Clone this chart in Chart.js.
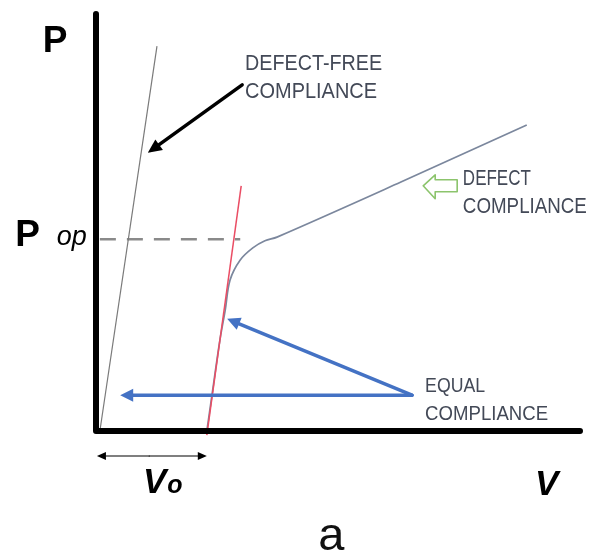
<!DOCTYPE html>
<html>
<head>
<meta charset="utf-8">
<script src="https://cdn.jsdelivr.net/npm/chart.js@4/dist/chart.umd.min.js"></script>
<style>
  html, body { margin: 0; padding: 0; background: #fff; }
  #wrap { width: 590px; height: 556px; position: relative; }
</style>
</head>
<body>
<div id="wrap"><canvas id="compliance-chart"></canvas></div>
<script>
// Load (P) vs displacement (V), schematic units 0..10 on both axes
const V_MAX = 10;
const P_MAX = 10;

// Defect-free compliance: steep straight line from the origin
const defectFreeV = [0.08, 1.26];
const defectFreeP = [0, 9.23];

// Measured curve with a defect: stiff toe, knee near P_op, then softer slope
const defectV = [2.29, 2.44, 2.56, 2.67, 2.77, 2.98, 3.24, 3.49, 3.74, 6.3, 8.9];
const defectP = [0, 1.22, 2.18, 2.9, 3.62, 4.1, 4.39, 4.56, 4.65, 5.97, 7.34];

// Equal-compliance tangent on the toe of the curve
const tangentV = [2.29, 3.0];
const tangentP = [-0.1, 5.88];

// Operating load level and offset V0
const P_OP = 4.6;
const V_OFFSET = 2.29;

const toPoints = (xs, ys) => xs.map((x, i) => ({ x: x, y: ys[i] }));

const FONT = '"Liberation Sans", Arial, sans-serif';
const TEXT_GREY = '#434957';

function arrow(ctx, x1, y1, x2, y2, color, width, headLen, headW) {
  const ang = Math.atan2(y2 - y1, x2 - x1);
  const bx = x2 - Math.cos(ang) * headLen;
  const by = y2 - Math.sin(ang) * headLen;
  ctx.save();
  ctx.strokeStyle = color;
  ctx.fillStyle = color;
  ctx.lineWidth = width;
  ctx.lineCap = 'round';
  ctx.beginPath();
  ctx.moveTo(x1, y1);
  ctx.lineTo(bx, by);
  ctx.stroke();
  ctx.beginPath();
  ctx.moveTo(x2, y2);
  ctx.lineTo(bx + Math.sin(ang) * headW / 2, by - Math.cos(ang) * headW / 2);
  ctx.lineTo(bx - Math.sin(ang) * headW / 2, by + Math.cos(ang) * headW / 2);
  ctx.closePath();
  ctx.fill();
  ctx.restore();
}

// Text squeezed to a given width (narrow capitals of the labels)
function fitText(ctx, str, x, y, font, width, color) {
  ctx.save();
  ctx.font = font;
  ctx.fillStyle = color;
  ctx.textBaseline = 'alphabetic';
  const w = ctx.measureText(str).width;
  ctx.translate(x, y);
  ctx.scale(width / w, 1);
  ctx.fillText(str, 0, 0);
  ctx.restore();
}

function text(ctx, str, x, y, font, color) {
  ctx.save();
  ctx.font = font;
  ctx.fillStyle = color || '#000';
  ctx.textBaseline = 'alphabetic';
  ctx.fillText(str, x, y);
  ctx.restore();
}

const sketchPlugin = {
  id: 'sketch',
  beforeDatasetsDraw(chart) {
    const { ctx, scales: { x, y } } = chart;
    // dashed P_op guide
    ctx.save();
    ctx.strokeStyle = '#8a8a8a';
    ctx.lineWidth = 2.5;
    ctx.setLineDash([16, 11]);
    ctx.beginPath();
    ctx.moveTo(x.getPixelForValue(0.08), y.getPixelForValue(P_OP));
    ctx.lineTo(x.getPixelForValue(2.98), y.getPixelForValue(P_OP));
    ctx.stroke();
    ctx.restore();
  },
  afterDatasetsDraw(chart) {
    const { ctx, scales: { x, y } } = chart;
    const px = v => x.getPixelForValue(v);
    const py = v => y.getPixelForValue(v);

    // heavy axes meeting at a rounded corner
    ctx.save();
    ctx.strokeStyle = '#000';
    ctx.lineWidth = 6;
    ctx.lineJoin = 'round';
    ctx.lineCap = 'round';
    ctx.beginPath();
    ctx.moveTo(px(0), py(P_MAX));
    ctx.lineTo(px(0), py(0));
    ctx.lineTo(px(V_MAX), py(0));
    ctx.stroke();
    ctx.restore();

    // pointer to the defect-free line
    arrow(ctx, px(3.02), py(8.3), px(1.07), py(6.67), '#000', 3.5, 14, 13);

    // equal-compliance pointers
    arrow(ctx, px(6.53), py(0.86), px(2.71), py(2.69), '#4472c4', 3.5, 13, 13);
    arrow(ctx, px(6.53), py(0.86), px(0.5), py(0.86), '#4472c4', 3.5, 13, 13);

    // V0 span below the axis
    const yv = py(-0.6);
    arrow(ctx, px(1.1), yv, px(0.02), yv, '#000', 1.2, 9, 8);
    arrow(ctx, px(1.1), yv, px(V_OFFSET), yv, '#000', 1.2, 9, 8);

    // hollow green block arrow
    const gx = px(6.76), gy = py(5.88);
    ctx.save();
    ctx.strokeStyle = '#8cc46c';
    ctx.lineWidth = 1.6;
    ctx.lineJoin = 'round';
    ctx.beginPath();
    ctx.moveTo(gx, gy);
    ctx.lineTo(gx + 12, gy - 11);
    ctx.lineTo(gx + 12, gy - 6);
    ctx.lineTo(gx + 34, gy - 6);
    ctx.lineTo(gx + 34, gy + 6);
    ctx.lineTo(gx + 12, gy + 6);
    ctx.lineTo(gx + 12, gy + 13);
    ctx.closePath();
    ctx.stroke();
    ctx.restore();

    // axis symbols
    text(ctx, 'P', px(-1.1), py(9.09), 'bold 37px ' + FONT);
    text(ctx, 'P', px(-1.67), py(4.44), 'bold 37px ' + FONT);
    text(ctx, 'op', px(-0.81), py(4.46), 'italic 27px ' + FONT);
    text(ctx, 'V', px(0.97), py(-1.49), 'italic bold 35px ' + FONT);
    text(ctx, 'o', px(1.47), py(-1.49), 'italic bold 25px ' + FONT);
    text(ctx, 'V', px(9.07), py(-1.53), 'italic bold 35px ' + FONT);
    text(ctx, 'a', px(4.59), py(-2.85), '47px ' + FONT, '#111');

    // callout labels
    const lab = '22px ' + FONT;
    fitText(ctx, 'DEFECT-FREE', px(3.08), py(8.66), lab, 137, TEXT_GREY);
    fitText(ctx, 'COMPLIANCE', px(3.08), py(7.99), lab, 132, TEXT_GREY);
    fitText(ctx, 'DEFECT', px(7.58), py(5.9), lab, 68, TEXT_GREY);
    fitText(ctx, 'COMPLIANCE', px(7.58), py(5.23), lab, 124, TEXT_GREY);
    fitText(ctx, 'EQUAL', px(6.8), py(0.94), '21px ' + FONT, 60, TEXT_GREY);
    fitText(ctx, 'COMPLIANCE', px(6.8), py(0.26), '21px ' + FONT, 123, TEXT_GREY);
  }
};

new Chart(document.getElementById('compliance-chart'), {
  type: 'scatter',
  data: {
    datasets: [
      {
        label: 'Equal compliance',
        data: toPoints(tangentV, tangentP),
        showLine: true,
        borderColor: '#ea4d64',
        borderWidth: 1.5,
        pointRadius: 0,
        order: 0
      },
      {
        label: 'Defect compliance',
        data: toPoints(defectV, defectP),
        showLine: true,
        borderColor: '#7b879d',
        borderWidth: 1.7,
        pointRadius: 0,
        tension: 0.35,
        order: 1
      },
      {
        label: 'Defect-free compliance',
        data: toPoints(defectFreeV, defectFreeP),
        showLine: true,
        borderColor: '#7a7a7a',
        borderWidth: 1.2,
        pointRadius: 0,
        order: 2
      }
    ]
  },
  options: {
    responsive: true,
    maintainAspectRatio: false,
    animation: false,
    clip: false,
    layout: { padding: { left: 96, top: 14, right: 10, bottom: 125 } },
    plugins: { legend: { display: false }, tooltip: { enabled: false } },
    scales: {
      x: { type: 'linear', min: 0, max: V_MAX, display: false },
      y: { type: 'linear', min: 0, max: P_MAX, display: false }
    }
  },
  plugins: [sketchPlugin]
});
</script>
</body>
</html>
